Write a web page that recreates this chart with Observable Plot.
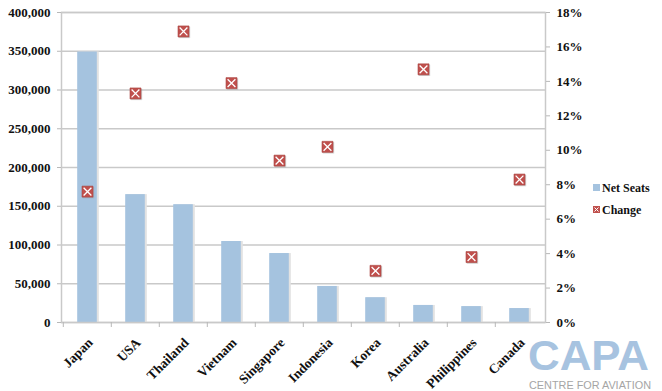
<!DOCTYPE html>
<html><head><meta charset="utf-8">
<script src="https://cdn.jsdelivr.net/npm/d3@7"></script>
<script src="https://cdn.jsdelivr.net/npm/@observablehq/plot@0.6"></script>
<style>
html,body{margin:0;padding:0;background:#fff;}
#chart{width:662px;height:391px;}
</style></head><body><div id="chart"></div>
<script>
const countries = ["Japan","USA","Thailand","Vietnam","Singapore","Indonesia","Korea","Australia","Philippines","Canada"];
const netSeats = [349000,165000,152000,104500,89000,46500,32000,22000,20500,18000];
const changePct = [7.6,13.3,16.9,13.9,9.4,10.2,3.0,14.7,3.8,8.3];
const seatTicks = [0,50000,100000,150000,200000,250000,300000,350000,400000];
const pctTicks = [0,2,4,6,8,10,12,14,16,18];
const legendLabels = ["Net Seats","Change"];
const logoMain = "CAPA";
const logoSub = "CENTRE FOR AVIATION";

const seatMax = seatTicks[seatTicks.length-1];
const pctMax = pctTicks[pctTicks.length-1];
const pctToSeat = p => p / pctMax * seatMax;

const rows = countries.map((c,i)=>({country:c, seats:netSeats[i], change:changePct[i]}));

const W = 662, H = 391, mL = 61, mR = 117, mT = 12, mB = 69;
const bw = (W - mL - mR) / countries.length;
const serif = "'Liberation Serif', 'DejaVu Serif', serif";
const barColor = "#a5c3df";
const markColor = "#c0504d";
const gridColor = "#c9c9c9";

const xSymbol = {draw(ctx, size){ const h = Math.sqrt(size)/2 - 1.6; ctx.moveTo(-h,-h); ctx.lineTo(h,h); ctx.moveTo(h,-h); ctx.lineTo(-h,h); }};

const chart = Plot.plot({
  width: W, height: H,
  marginLeft: mL, marginRight: mR, marginTop: mT, marginBottom: mB,
  style: {fontFamily: serif, background: "#fff"},
  x: {type: "band", domain: countries, padding: 0, axis: null, label: null},
  y: {domain: [0, seatMax], axis: null, label: null},
  marks: [
    Plot.gridY(seatTicks, {stroke: gridColor, strokeWidth: 1.5, strokeOpacity: 1}),
    Plot.barY(rows, {x: "country", y: "seats", fill: "#e2e2e2", insetLeft: bw/2 - 9, insetRight: bw/2 - 12}),
    Plot.barY(rows, {x: "country", y: "seats", fill: barColor, insetLeft: bw/2 - 10, insetRight: bw/2 - 10}),
    Plot.frame({stroke: gridColor, strokeWidth: 1.5}),
    Plot.axisY({ticks: seatTicks, tickSize: 4, tickPadding: 7, tickFormat: d3.format(","), label: null, stroke: "#b8b8b8", fill: "#111", fontSize: 13, fontWeight: "bold"}),
    Plot.axisY({anchor: "right", ticks: pctTicks.map(pctToSeat), tickSize: 4, tickPadding: 7, label: null,
      tickFormat: (d,i) => pctTicks[i] + "%", stroke: "#b8b8b8", fill: "#111", fontSize: 13, fontWeight: "bold"}),
    Plot.axisX({tickSize: 5, tickFormat: () => "", label: null, dx: -bw/2, stroke: "#b8b8b8"}),
    Plot.text(countries, {x: d => d, frameAnchor: "bottom", rotate: -45, textAnchor: "end", dy: 21, dx: 6, fontSize: 13.5, fontWeight: "bold", fill: "#111"}),
    Plot.dot(rows, {x: "country", y: d => pctToSeat(d.change), symbol: "square", r: 6.4, fill: "#999", fillOpacity: 0.45, dx: 1, dy: 1}),
    Plot.dot(rows, {x: "country", y: d => pctToSeat(d.change), symbol: "square", r: 6.2, fill: markColor, stroke: "#a94442", strokeWidth: 0.6}),
    Plot.dot(rows, {x: "country", y: d => pctToSeat(d.change), symbol: xSymbol, r: 6.2, stroke: "#fff", strokeWidth: 1.3, fill: "none"})
  ]
});

const svg = d3.select(chart);
// Legend
const lg = svg.append("g").attr("font-family", serif).attr("font-weight", "bold").attr("font-size", 12).attr("fill", "#111").attr("text-anchor", "start");
lg.append("rect").attr("x", 593).attr("y", 184).attr("width", 7).attr("height", 7).attr("fill", barColor);
lg.append("text").attr("x", 602).attr("y", 192).text(legendLabels[0]);
lg.append("rect").attr("x", 593).attr("y", 206).attr("width", 7).attr("height", 7).attr("fill", markColor);
lg.append("path").attr("d", "M594.5,207.5L598.5,211.5M598.5,207.5L594.5,211.5").attr("stroke", "#fff").attr("stroke-width", 1);
lg.append("text").attr("x", 602).attr("y", 214).text(legendLabels[1]);
// Logo
const logo = svg.append("g").attr("text-anchor", "start").attr("font-family", "'Liberation Sans', Arial, sans-serif");
logo.append("text").attr("x", 528).attr("y", 370)
  .attr("font-weight", "bold").attr("font-size", 42).attr("fill", "#a7c3e0")
  .attr("textLength", 121).attr("lengthAdjust", "spacingAndGlyphs").text(logoMain);
logo.append("text").attr("x", 529).attr("y", 388.5)
  .attr("font-size", 10.5).attr("fill", "#a5a5a5")
  .attr("textLength", 122).attr("lengthAdjust", "spacingAndGlyphs").text(logoSub);

document.getElementById("chart").appendChild(chart);
</script>
</body></html>
